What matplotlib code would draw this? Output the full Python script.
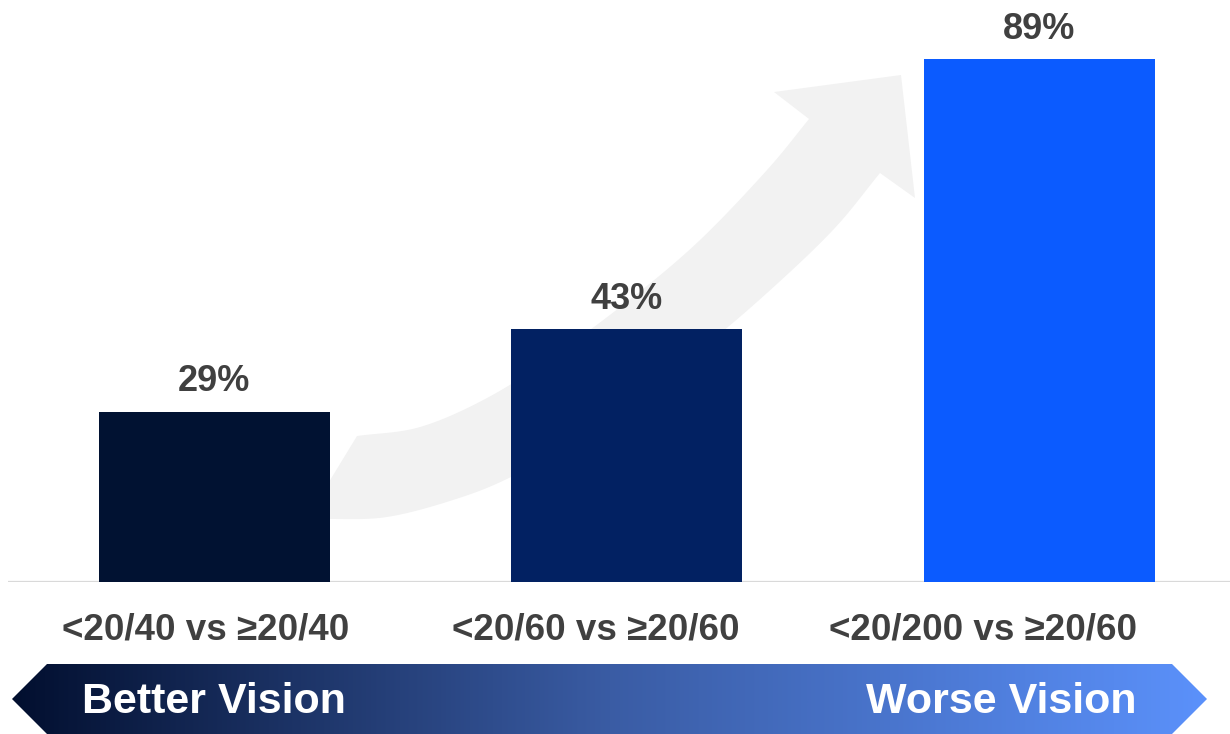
import numpy as np
import matplotlib
matplotlib.use("Agg")
import matplotlib.pyplot as plt
from matplotlib.patches import Polygon
from matplotlib.colors import LinearSegmentedColormap
from matplotlib.transforms import ScaledTranslation

# --- data ---
categories = ["<20/40 vs \u226520/40", "<20/60 vs \u226520/60", "<20/200 vs \u226520/60"]
values = [29, 43, 89]
value_labels = ["29%", "43%", "89%"]
bar_colors = ["#011232", "#022162", "#0B5BFF"]
scale_left = "Better Vision"
scale_right = "Worse Vision"

W, H = 1230, 734
plt.rcParams["font.family"] = ["Liberation Sans", "DejaVu Sans"]
fig = plt.figure(figsize=(W / 100, H / 100), dpi=100)

# background layer in pixel coordinates (y downwards)
bg = fig.add_axes([0, 0, 1, 1], zorder=0)
bg.set_xlim(0, W)
bg.set_ylim(H, 0)
bg.axis("off")


def catmull_rom(pts, n=30):
    pts = np.asarray(pts, float)
    ext = np.vstack([2 * pts[0] - pts[1], pts, 2 * pts[-1] - pts[-2]])
    out = []
    for i in range(1, len(ext) - 2):
        p0, p1, p2, p3 = ext[i - 1], ext[i], ext[i + 1], ext[i + 2]
        for t in np.linspace(0, 1, n, endpoint=False):
            t2, t3 = t * t, t * t * t
            out.append(0.5 * ((2 * p1) + (-p0 + p2) * t
                              + (2 * p0 - 5 * p1 + 4 * p2 - p3) * t2
                              + (-p0 + 3 * p1 - 3 * p2 + p3) * t3))
    out.append(pts[-1])
    return np.array(out)


# curved trend arrow behind the bars
upper = catmull_rom([(357, 436), (420, 427), (487, 398), (555, 355), (633, 297),
                     (700, 240), (767, 170), (809, 119)])
lower = catmull_rom([(880, 173), (833, 230), (767, 293), (700, 350), (600, 428),
                     (511, 477), (453, 500), (387, 517), (330, 519), (307, 518)])
head = np.array([(774, 92), (901, 75), (915, 198)])
shape = np.vstack([upper, head, lower])
bg.add_patch(Polygon(shape, closed=True, facecolor="#f2f2f2", edgecolor="none"))

# gradient scale band at the bottom
band = Polygon([(12, 699), (47, 664), (1172, 664), (1207, 699), (1172, 734), (47, 734)],
               closed=True, facecolor="none", edgecolor="none")
bg.add_patch(band)
cmap = LinearSegmentedColormap.from_list(
    "band", [(0.0, "#020f2f"), (0.5, "#3a5ca4"), (1.0, "#5b91fb")])
grad = np.linspace(0, 1, 512).reshape(1, -1)
img = bg.imshow(grad, cmap=cmap, extent=(12, 1207, 734, 664), aspect="auto", zorder=1)
img.set_clip_path(band)
bg.text(82, 702, scale_left, color="white", fontsize=31, fontweight="bold",
        ha="left", va="center", zorder=2)
bg.text(1137, 702, scale_right, color="white", fontsize=31, fontweight="bold",
        ha="right", va="center", zorder=2)

# bar chart layer
px_per_unit = 5.876
ymax = 95
ax = fig.add_axes([8 / W, 152 / H, 1222 / W, ymax * px_per_unit / H], zorder=1)
ax.patch.set_alpha(0)
x = np.arange(len(categories))
bars = ax.bar(x, values, width=0.56, color=bar_colors, zorder=2)
ax.set_xlim(-0.5, -0.5 + 1222 / 412.5)
ax.set_ylim(0, ymax)
for s in ax.spines.values():
    s.set_visible(False)
ax.axhline(0, color="#d9d9d9", lw=1.6, zorder=1)
ax.set_yticks([])
ax.set_xticks(x)
ax.set_xticklabels(categories, fontsize=26.5, fontweight="bold", color="#404040")
ax.tick_params(axis="x", length=0, pad=22)

# category labels sit on a slightly tighter pitch than the bars
label_shift_px = [-8.5, -31, -56]
for lab, dx in zip(ax.get_xticklabels(), label_shift_px):
    lab.set_transform(lab.get_transform() + ScaledTranslation(dx / 100, 0, fig.dpi_scale_trans))

for b, lab in zip(bars, value_labels):
    ax.annotate(lab, (b.get_x() + b.get_width() / 2, b.get_height()),
                xytext=(0, 14.5), textcoords="offset points",
                ha="center", va="baseline", fontsize=26, fontweight="bold",
                color="#404040", annotation_clip=False)

fig.savefig("out.png", dpi=100)
